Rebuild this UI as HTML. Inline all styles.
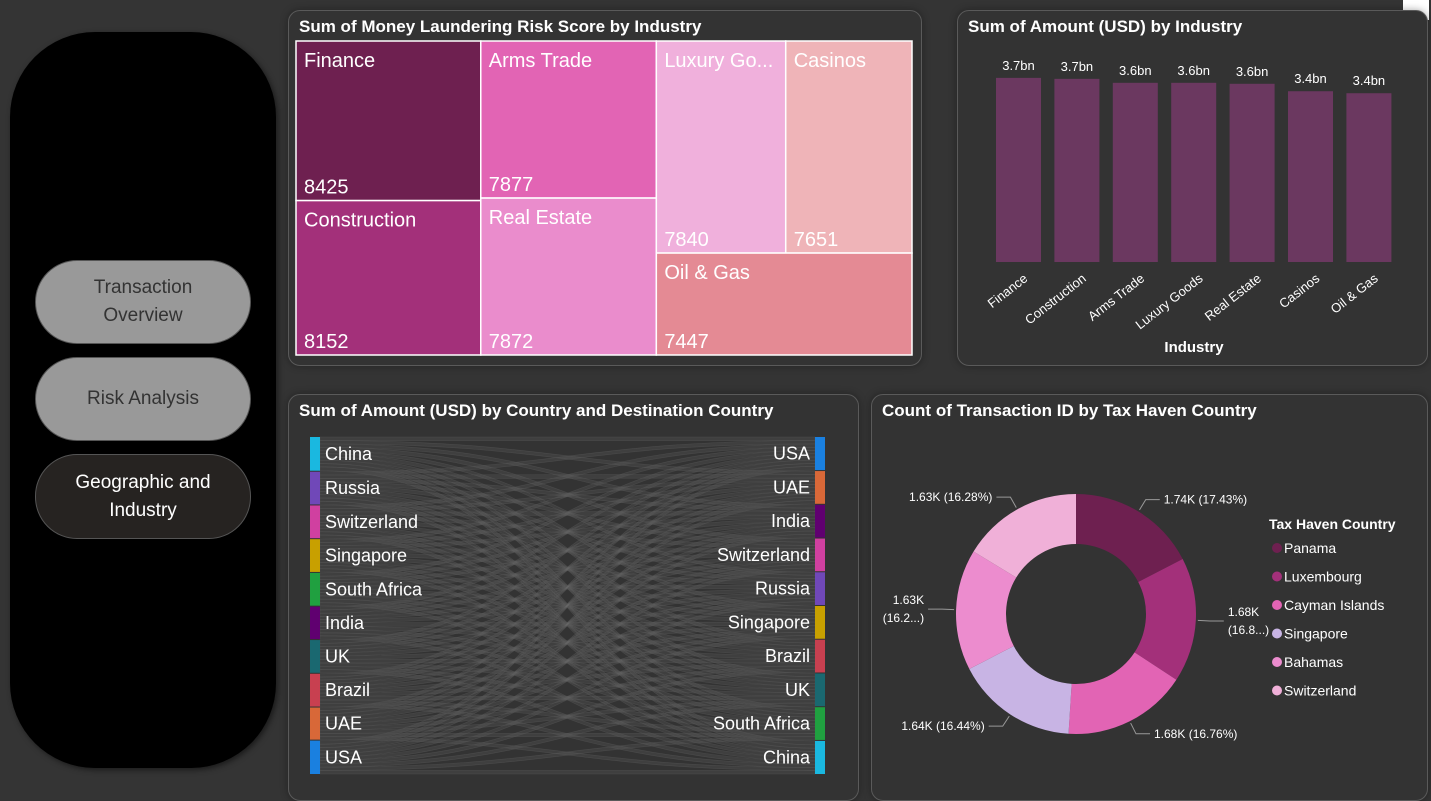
<!DOCTYPE html>
<html><head><meta charset="utf-8">
<style>
*{box-sizing:border-box;margin:0;padding:0}
body{width:1431px;height:801px;background:#343434;font-family:"Liberation Sans",sans-serif;position:relative;overflow:hidden;color:#fff}
.panel{position:absolute;border:1px solid #5a5a5a;border-radius:12px;background:#333;box-shadow:0 0 8px rgba(0,0,0,.35)}
.title{position:absolute;left:10px;top:6px;font-size:17px;font-weight:bold;color:#fff;white-space:nowrap}
.nav{position:absolute;left:10px;top:32px;width:266px;height:736px;background:#000;border-radius:85px;box-shadow:2px 2px 6px rgba(0,0,0,.5)}
.btn{position:absolute;left:25px;width:216px;border-radius:42px;background:#999;color:#333;font-size:19px;text-align:center;display:flex;align-items:center;justify-content:center;line-height:28px;border:1px solid #555}
svg text{font-family:"Liberation Sans",sans-serif}
</style></head><body>
<div class="nav">
  <div class="btn" style="top:228px;height:84px">Transaction<br>Overview</div>
  <div class="btn" style="top:325px;height:84px">Risk Analysis</div>
  <div class="btn" style="top:422px;height:85px;background:#262321;color:#fff">Geographic and<br>Industry</div>
</div>
<div style="position:absolute;left:1403px;top:0;width:26px;height:20px;background:#fff"></div>

<div class="panel" style="left:288px;top:10px;width:634px;height:356px">
  <div class="title">Sum of Money Laundering Risk Score by Industry</div>
  <svg id="tm" width="634" height="356" style="position:absolute;left:-1px;top:-1px"></svg>
</div>
<div class="panel" style="left:957px;top:10px;width:471px;height:356px">
  <div class="title">Sum of Amount (USD) by Industry</div>
  <svg id="bar" width="471" height="356" style="position:absolute;left:-1px;top:-1px"></svg>
</div>
<div class="panel" style="left:288px;top:394px;width:571px;height:407px">
  <div class="title">Sum of Amount (USD) by Country and Destination Country</div>
  <svg id="sk" width="571" height="407" style="position:absolute;left:-1px;top:-1px"></svg>
</div>
<div class="panel" style="left:871px;top:394px;width:557px;height:407px">
  <div class="title">Count of Transaction ID by Tax Haven Country</div>
  <svg id="dn" width="557" height="407" style="position:absolute;left:-1px;top:-1px"></svg>
</div>

<script>
const NS="http://www.w3.org/2000/svg";
function mk(p,t,a){const e=document.createElementNS(NS,t);for(const k in a)e.setAttribute(k,a[k]);p.appendChild(e);return e;}

// ---------- Treemap ----------
const tmCols=[["Finance","Construction"],["Arms Trade","Real Estate"],["Luxury Go...","Casinos","Oil & Gas"]];
const tmValues=[[8425,8152],[7877,7872],[7840,7651,7447]];
const tmColors=[["#6e2050","#a3307a"],["#e264b4","#ea8ccc"],["#f0b0dc","#efb4b8","#e48a94"]];
(function(){
  const svg=document.getElementById('tm');
  const X0=8,Y0=31,W=616,H=314;
  const colSums=tmValues.map(c=>c.reduce((a,b)=>a+b,0));
  const tot=colSums.reduce((a,b)=>a+b,0);
  let x=X0;
  tmCols.forEach((col,ci)=>{
    const cw=W*colSums[ci]/tot;
    const rects=[];
    if(col.length===2){
      let y=Y0;
      col.forEach((n,i)=>{const h=H*tmValues[ci][i]/colSums[ci];rects.push([x,y,cw,h,i]);y+=h;});
    } else {
      const topSum=tmValues[ci][0]+tmValues[ci][1];
      const th=H*topSum/colSums[ci];
      const w0=cw*tmValues[ci][0]/topSum;
      rects.push([x,Y0,w0,th,0]);rects.push([x+w0,Y0,cw-w0,th,1]);rects.push([x,Y0+th,cw,H-th,2]);
    }
    rects.forEach(([rx,ry,rw,rh,i])=>{
      const r=mk(svg,'rect',{x:rx,y:ry,width:rw,height:rh,fill:tmColors[ci][i],stroke:'#fff','stroke-width':1.5});
      
      
      const t=mk(svg,'text',{x:rx+8,y:ry+26,'font-size':20,fill:'#fff'});t.textContent=col[i];
      
      
      const v=mk(svg,'text',{x:rx+8,y:ry+rh-7,'font-size':20,fill:'#fff'});v.textContent=tmValues[ci][i];
      
      
    });
    x+=cw;
  });
})();

// ---------- Bar chart ----------
const barCats=["Finance","Construction","Arms Trade","Luxury Goods","Real Estate","Casinos","Oil & Gas"];
const barVals=[3.72,3.70,3.62,3.62,3.60,3.45,3.41];
const barLabels=["3.7bn","3.7bn","3.6bn","3.6bn","3.6bn","3.4bn","3.4bn"];
(function(){
  const svg=document.getElementById('bar');
  const base=252,scale=49.5,x0=39,step=58.4,bw=45;
  const yS=v=>base-v*scale;
  barCats.forEach((c,i)=>{
    const x=x0+i*step;
    const r=mk(svg,'rect',{x:x,y:yS(barVals[i]),width:bw,height:base-yS(barVals[i]),fill:'#6b3860'});
    
    
    const t=mk(svg,'text',{x:x+bw/2,y:yS(barVals[i])-8,'font-size':13,fill:'#fff','text-anchor':'middle'});t.textContent=barLabels[i];
    
    
    const l=mk(svg,'text',{x:x+bw/2+10,y:base+18,'font-size':13,fill:'#fff','text-anchor':'end',transform:`rotate(-38 ${x+bw/2+10} ${base+18})`});l.textContent=c;
    
    
  });
  const at=mk(svg,'text',{x:237,y:342,'font-size':15,'font-weight':'bold',fill:'#fff','text-anchor':'middle'});at.textContent="Industry";
  
  
})();

// ---------- Sankey ----------
const skSources=["China","Russia","Switzerland","Singapore","South Africa","India","UK","Brazil","UAE","USA"];
const skTargets=["USA","UAE","India","Switzerland","Russia","Singapore","Brazil","UK","South Africa","China"];
const skColors={"China":"#1ab8e0","Russia":"#7048b8","Switzerland":"#d040a0","Singapore":"#c8a000","South Africa":"#20a040","India":"#600070","UK":"#1a6870","Brazil":"#c84050","UAE":"#d86838","USA":"#1a80e0"};
const skFlows=[
 [1.1,1.0,1.0,1.1,0.9,1.0,1.0,1.0,1.0,1.2],
 [1.0,1.1,1.0,1.0,1.0,1.0,0.9,1.0,1.0,1.0],
 [1.0,1.0,1.1,1.0,1.0,0.9,1.0,1.0,1.0,1.0],
 [1.0,1.0,1.0,1.0,1.1,1.0,1.0,0.9,1.0,1.0],
 [1.0,1.0,1.0,1.0,1.0,1.0,1.0,1.0,1.1,0.9],
 [1.0,1.0,1.0,0.9,1.0,1.1,1.0,1.0,0.9,1.0],
 [1.0,1.0,0.9,1.0,1.0,1.0,1.1,1.0,1.0,1.0],
 [1.0,0.9,1.0,1.0,1.0,1.0,1.0,1.1,1.0,1.0],
 [0.9,1.0,1.0,1.0,1.0,1.0,1.0,1.0,1.0,0.9],
 [1.1,1.0,1.0,1.0,1.0,1.0,1.0,1.0,1.0,1.1]
];
(function(){
  const svg=document.getElementById('sk');
  const lx=22,rx=527,nw=10,top=43,H=337,gap=1;
  const srcTot=skFlows.map(r=>r.reduce((a,b)=>a+b,0));
  const tgtTot=skTargets.map((_,j)=>skFlows.reduce((a,r)=>a+r[j],0));
  const tot=srcTot.reduce((a,b)=>a+b,0);
  const k=(H-gap*9)/tot;
  const sy=[],ty=[];let y=top;
  srcTot.forEach(v=>{sy.push(y);y+=v*k+gap;});
  y=top;tgtTot.forEach(v=>{ty.push(y);y+=v*k+gap;});
  const so=sy.slice(),to=ty.slice();
  const g=mk(svg,'g',{});
  skFlows.forEach((row,i)=>row.forEach((v,j)=>{
    const h=v*k,y1=so[i],y2=to[j];so[i]+=h;to[j]+=h;
    const x1=lx+nw,x2=rx,cx=(x1+x2)/2;
    const p=mk(g,'path',{d:`M${x1},${y1}C${cx},${y1} ${cx},${y2} ${x2},${y2}L${x2},${y2+h}C${cx},${y2+h} ${cx},${y1+h} ${x1},${y1+h}Z`,fill:'rgba(110,110,110,0.22)',stroke:'rgba(85,85,85,0.6)','stroke-width':0.6});
    
    
  }));
  skSources.forEach((n,i)=>{
    const r=mk(svg,'rect',{x:lx,y:sy[i],width:nw,height:srcTot[i]*k,fill:skColors[n]});
    
    
    const t=mk(svg,'text',{x:lx+15,y:sy[i]+srcTot[i]*k/2+6,'font-size':18,fill:'#fff'});t.textContent=n;
    
    
  });
  skTargets.forEach((n,j)=>{
    const r=mk(svg,'rect',{x:rx,y:ty[j],width:nw,height:tgtTot[j]*k,fill:skColors[n]});
    
    
    const t=mk(svg,'text',{x:rx-5,y:ty[j]+tgtTot[j]*k/2+6,'font-size':18,fill:'#fff','text-anchor':'end'});t.textContent=n;
    
    
  });
})();

// ---------- Donut ----------
const dnCats=["Panama","Luxembourg","Cayman Islands","Singapore","Bahamas","Switzerland"];
const dnVals=[1743,1680,1676,1644,1629,1628];
const dnLabels=[["1.74K (17.43%)"],["1.68K","(16.8...)"],["1.68K (16.76%)"],["1.64K (16.44%)"],["1.63K","(16.2...)"],["1.63K (16.28%)"]];
const dnColors=["#6e2050","#a3307a","#e264b4","#c8b4e4","#ec8cce","#f0b0d8"];
(function(){
  const svg=document.getElementById('dn');
  const cx=205,cy=220,R=120,r=70;
  const tot=dnVals.reduce((a,b)=>a+b,0);
  let a=-Math.PI/2;
  const pt=(ang,rad)=>[cx+rad*Math.cos(ang),cy+rad*Math.sin(ang)];
  dnVals.forEach((v,i)=>{
    const a2=a+v/tot*2*Math.PI,lg=(a2-a)>Math.PI?1:0;
    const [x1,y1]=pt(a,R),[x2,y2]=pt(a2,R),[x3,y3]=pt(a2,r),[x4,y4]=pt(a,r);
    const p=mk(svg,'path',{d:`M${x1},${y1}A${R},${R} 0 ${lg} 1 ${x2},${y2}L${x3},${y3}A${r},${r} 0 ${lg} 0 ${x4},${y4}Z`,fill:dnColors[i]});
    
    
    const m=(a+a2)/2,right=Math.cos(m)>=0;
    const [lx1,ly1]=pt(m,R+2),[lx2,ly2]=pt(m,R+14);
    const ex=lx2+(right?14:-14);
    mk(svg,'polyline',{points:`${lx1},${ly1} ${lx2},${ly2} ${ex},${ly2}`,fill:'none',stroke:'#999','stroke-width':1});
    const lines=dnLabels[i];
    lines.forEach((s,li)=>{
      const t=mk(svg,'text',{x:ex+(right?4:-4),y:ly2+4+(li-(lines.length-1)/2)*18,'font-size':12,fill:'#fff','text-anchor':right?'start':'end'});
      t.textContent=s;
      
      
    });
    a=a2;
  });
  const lt=mk(svg,'text',{x:398,y:135,'font-size':14,'font-weight':'bold',fill:'#fff'});lt.textContent="Tax Haven Country";
  
  
  dnCats.forEach((c,i)=>{
    const y=159+i*28.5;
    const d=mk(svg,'circle',{cx:406,cy:y-5,r:5,fill:dnColors[i]});
    
    
    const t=mk(svg,'text',{x:413,y:y,'font-size':14,fill:'#fff'});t.textContent=c;
    
    
  });
})();
</script>
</body></html>
